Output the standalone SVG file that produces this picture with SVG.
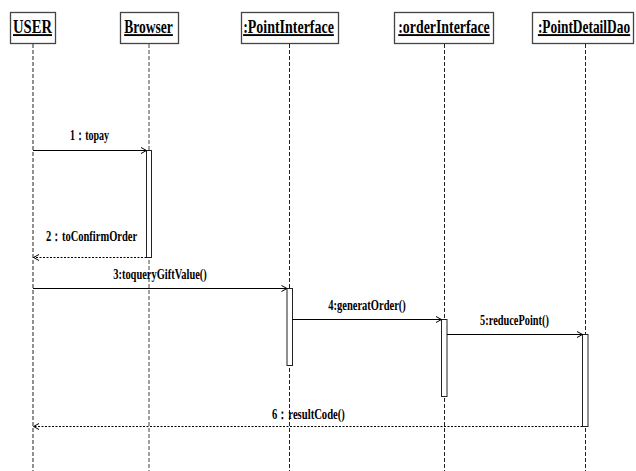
<svg xmlns="http://www.w3.org/2000/svg" width="636" height="471" viewBox="0 0 636 471">
<style>
.box{fill:#fff;stroke:#444;stroke-width:1.3}
.hdr{font-family:"Liberation Serif","Times New Roman",serif;font-weight:bold;font-size:19px;text-decoration:underline;text-anchor:middle;fill:#000}
.life{stroke:#222;stroke-width:1;stroke-dasharray:4,2;fill:none}
.lifeg{stroke:#8a8a8a;stroke-width:1.6;stroke-dasharray:4,2;fill:none}
.act{fill:#fff;stroke:#222;stroke-width:1}
.msg{stroke:#000;stroke-width:1;fill:none;marker-end:url(#arr)}
.ret{stroke:#000;stroke-width:1;stroke-dasharray:2,1.5;fill:none;marker-end:url(#arr)}
.lbl{font-family:"Liberation Serif","Times New Roman",serif;font-weight:bold;font-size:14px;text-anchor:middle;fill:#000}
</style>
<defs>
<marker id="arr" markerUnits="userSpaceOnUse" markerWidth="8" markerHeight="8" refX="6" refY="3.5" orient="auto">
<path d="M0.5,0.5 L6,3.5 L0.5,6.5" fill="none" stroke="#000" stroke-width="1"/>
</marker>
</defs>
<rect width="636" height="471" fill="#fff"/>
<g id="lifeline-USER">
<rect class="box" x="10.5" y="12.5" width="45" height="31"/>
<text class="hdr" transform="translate(32.5,33) scale(0.75,1)" x="0" y="0" textLength="52" lengthAdjust="spacingAndGlyphs">USER</text>
<line class="life" x1="33" y1="44" x2="33" y2="471"/>
</g>
<g id="lifeline-Browser">
<rect class="box" x="120.5" y="12.5" width="58" height="31"/>
<text class="hdr" transform="translate(148.5,33) scale(0.75,1)" x="0" y="0" textLength="65" lengthAdjust="spacingAndGlyphs">Browser</text>
<line class="lifeg" x1="149" y1="44" x2="149" y2="471"/>
<rect class="act" x="146.5" y="150.5" width="5" height="107"/>
</g>
<g id="lifeline-PointInterface">
<rect class="box" x="241.5" y="12.5" width="97" height="31"/>
<text class="hdr" transform="translate(288.5,33) scale(0.75,1)" x="0" y="0" textLength="121" lengthAdjust="spacingAndGlyphs">:PointInterface</text>
<line class="life" x1="289.5" y1="44" x2="289.5" y2="471"/>
<rect class="act" x="287" y="288.5" width="5.5" height="77"/>
</g>
<g id="lifeline-orderInterface">
<rect class="box" x="394.5" y="12.5" width="99" height="31"/>
<text class="hdr" transform="translate(444,33) scale(0.75,1)" x="0" y="0" textLength="122" lengthAdjust="spacingAndGlyphs">:orderInterface</text>
<line class="life" x1="444.5" y1="44" x2="444.5" y2="471"/>
<rect class="act" x="441.5" y="319.5" width="5.5" height="77"/>
</g>
<g id="lifeline-PointDetailDao">
<rect class="box" x="532.5" y="12.5" width="101" height="31"/>
<text class="hdr" transform="translate(584,33) scale(0.75,1)" x="0" y="0" textLength="123" lengthAdjust="spacingAndGlyphs">:PointDetailDao</text>
<line class="life" x1="585.5" y1="44" x2="585.5" y2="471"/>
<rect class="act" x="582.5" y="334.5" width="5.5" height="92"/>
</g>
<g id="connectors">
<line class="msg" x1="33" y1="150.5" x2="146.5" y2="150.5"/>
<text class="lbl" transform="translate(89.5,140) scale(0.8,1)" x="0" y="0" textLength="49" lengthAdjust="spacingAndGlyphs">1：topay</text>
<line class="ret" x1="146.5" y1="257.5" x2="33.5" y2="257.5"/>
<text class="lbl" transform="translate(91.5,241) scale(0.8,1)" x="0" y="0" textLength="114" lengthAdjust="spacingAndGlyphs">2：toConfirmOrder</text>
<line class="msg" x1="33" y1="288.5" x2="287" y2="288.5"/>
<text class="lbl" transform="translate(160,279) scale(0.8,1)" x="0" y="0" textLength="117" lengthAdjust="spacingAndGlyphs">3:toqueryGiftValue()</text>
<line class="msg" x1="292.5" y1="319.5" x2="441.5" y2="319.5"/>
<text class="lbl" transform="translate(367,310) scale(0.8,1)" x="0" y="0" textLength="97" lengthAdjust="spacingAndGlyphs">4:generatOrder()</text>
<line class="msg" x1="447" y1="334.5" x2="582.5" y2="334.5"/>
<text class="lbl" transform="translate(514.5,325) scale(0.8,1)" x="0" y="0" textLength="86" lengthAdjust="spacingAndGlyphs">5:reducePoint()</text>
<line class="ret" x1="582.5" y1="426.5" x2="33.5" y2="426.5"/>
<text class="lbl" transform="translate(308.5,419) scale(0.8,1)" x="0" y="0" textLength="91" lengthAdjust="spacingAndGlyphs">6：resultCode()</text>
</g>
</svg>
